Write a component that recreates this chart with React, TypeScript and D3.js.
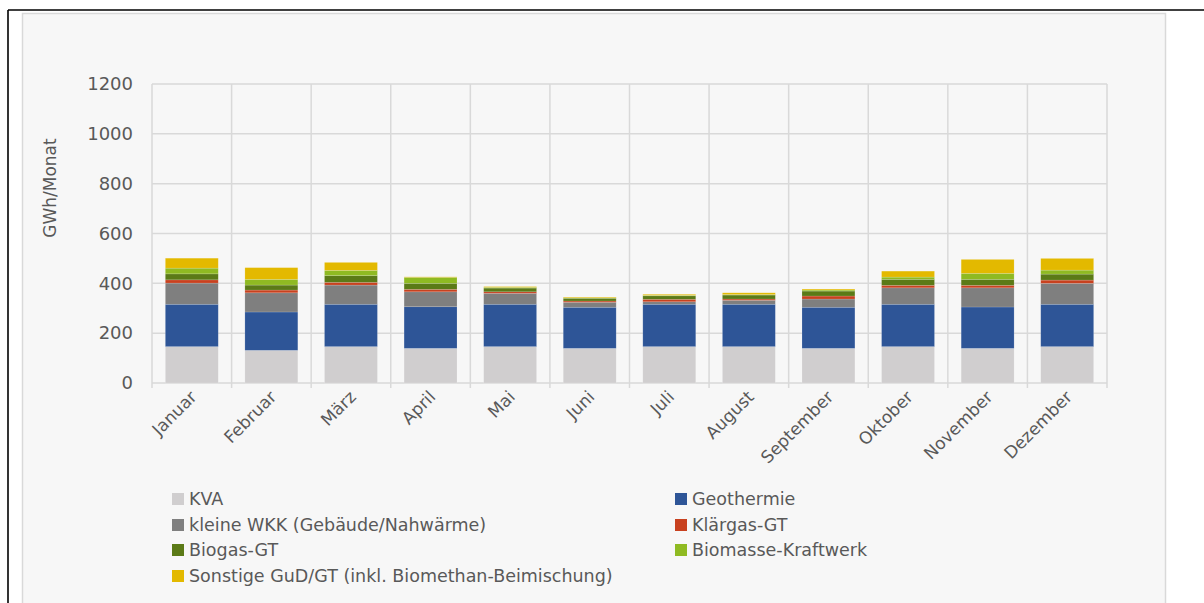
import React from "react";
import * as d3 from "d3";

const months = ["Januar","Februar","März","April","Mai","Juni","Juli","August","September","Oktober","November","Dezember"];
const kva =        [146, 131, 146, 139, 146, 139, 146, 146, 139, 146, 139, 146];
const geothermie = [170, 154, 170, 167, 170, 165, 170, 170, 165, 170, 166, 170];
const wkk =        [85, 77, 77, 60, 44, 20, 10, 16, 33, 66, 77, 84];
const klaergas =   [13, 11, 11, 10, 6, 5, 10, 5, 12, 10, 10, 13];
const biogas =     [24, 20, 27, 24, 15, 11, 14, 16, 20, 24, 24, 24];
const biomasse =   [23, 23, 21, 24, 3, 2, 2, 2, 4, 9, 24, 16];
const sonstige =   [40, 47, 32, 2, 3, 3, 4, 7, 4, 24, 56, 47];

const seriesNames = [
  "KVA",
  "Geothermie",
  "kleine WKK (Gebäude/Nahwärme)",
  "Klärgas-GT",
  "Biogas-GT",
  "Biomasse-Kraftwerk",
  "Sonstige GuD/GT (inkl. Biomethan-Beimischung)",
];
const seriesValues = [kva, geothermie, wkk, klaergas, biogas, biomasse, sonstige];
const seriesColors = ["#d0cecf", "#2e5597", "#7f7f7f", "#c8411f", "#5b7a17", "#8fba22", "#e3b900"];
const yTicks = [0, 200, 400, 600, 800, 1000, 1200];
const yTitle = "GWh/Monat";

const FONT = "'DejaVu Sans', sans-serif";
const TXT = "#595959";
const GRID = "#d9d9d9";

export default function App() {
  const W = 1204, H = 603;
  const left = 152, right = 1107, top = 84, bottom = 383;

  const x = d3.scaleBand<string>().domain(months).range([left, right]).paddingInner(0.335).paddingOuter(0.1675);
  const xb = d3.scaleBand<string>().domain(months).range([left, right]).padding(0);
  const y = d3.scaleLinear().domain([0, 1200]).range([bottom, top]);

  const table = months.map((m, i) => {
    const row: Record<string, any> = { month: m };
    seriesNames.forEach((s, k) => (row[s] = seriesValues[k][i]));
    return row;
  });
  const stacked = d3.stack<any>().keys(seriesNames)(table);

  const legendRows = [499, 525, 550, 576];
  const legendCols = [172, 675];

  return (
    <svg width={W} height={H} style={{ position: "absolute", left: 0, top: 0, fontFamily: FONT }}>
      <rect x={0} y={0} width={W} height={H} fill="#ffffff" />
      <rect x={22.5} y={13.5} width={1143} height={620} fill="#f7f7f7" stroke={GRID} strokeWidth={1.5} />
      <line x1={8} x2={W} y1={10} y2={10} stroke="#000" strokeWidth={1.6} />
      <line x1={8} x2={8} y1={10} y2={H} stroke="#000" strokeWidth={1.6} />

      {yTicks.map((t) => (
        <line key={"h" + t} x1={left} x2={right} y1={y(t)} y2={y(t)} stroke={GRID} strokeWidth={1.5} />
      ))}
      {months.map((m) => (
        <line key={"v" + m} x1={xb(m)!} x2={xb(m)!} y1={top} y2={bottom + 5} stroke={GRID} strokeWidth={1.5} />
      ))}
      <line x1={right} x2={right} y1={top} y2={bottom + 5} stroke={GRID} strokeWidth={1.5} />

      {stacked.map((layer, k) => (
        <g key={layer.key} fill={seriesColors[k]}>
          {layer.map((d, i) => {
            const y0 = y(d[0]);
            const y1 = y(d[1]);
            return (
              <rect key={i} x={x(months[i])!} y={y1} width={x.bandwidth()} height={Math.max(0, y0 - y1)}
                stroke="#ffffff" strokeOpacity={0.25} strokeWidth={0.6} />
            );
          })}
        </g>
      ))}

      {yTicks.map((t) => (
        <text key={"yt" + t} x={133} y={y(t)} dy="0.35em" textAnchor="end" fontSize={18} fill={TXT}>
          {t}
        </text>
      ))}
      <text transform={`translate(56,${188}) rotate(-90)`} textAnchor="middle" fontSize={17} fill={TXT}>
        {yTitle}
      </text>

      {months.map((m) => {
        const cx = xb(m)! + xb.bandwidth() / 2 + 6;
        return (
          <text key={"xl" + m} transform={`translate(${cx},${bottom + 15}) rotate(-45)`} textAnchor="end"
            fontSize={17} fill={TXT}>
            {m}
          </text>
        );
      })}

      {seriesNames.map((s, k) => {
        const col = k % 2;
        const row = Math.floor(k / 2);
        const lx = legendCols[col];
        const ly = legendRows[row];
        return (
          <g key={"lg" + s}>
            <rect x={lx} y={ly - 6} width={12} height={12} fill={seriesColors[k]} />
            <text x={lx + 17} y={ly} dy="0.35em" fontSize={17.5} fill={TXT}>{s}</text>
          </g>
        );
      })}
    </svg>
  );
}
